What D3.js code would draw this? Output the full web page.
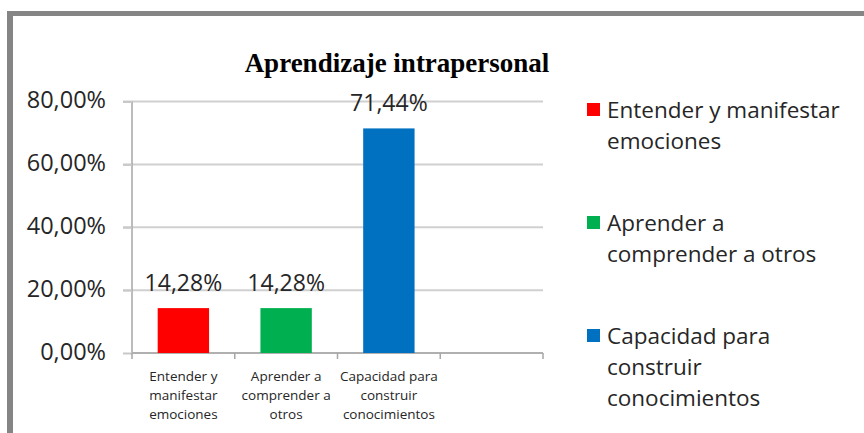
<!DOCTYPE html>
<html>
<head>
<meta charset="utf-8">
<script src="https://cdn.jsdelivr.net/npm/d3@7"></script>
<style>
  html, body { margin: 0; padding: 0; background: #fff; }
  svg { display: block; }
</style>
</head>
<body>
<svg id="chart" width="864" height="433"></svg>
<script>
// ---- data ----
const categories = ["Entender y manifestar emociones", "Aprender a comprender a otros", "Capacidad para construir conocimientos"];
const values = [14.28, 14.28, 71.44];
const valueLabels = ["14,28%", "14,28%", "71,44%"];
const colors = ["#ff0000", "#00b050", "#0070c0"];
const axisLabelLines = [["Entender y", "manifestar", "emociones"], ["Aprender a", "comprender a", "otros"], ["Capacidad para", "construir", "conocimientos"]];
const legendLines = [["Entender y manifestar", "emociones"], ["Aprender a", "comprender a otros"], ["Capacidad para", "construir", "conocimientos"]];
const yTicks = [0, 20, 40, 60, 80];
const yTickLabels = ["0,00%", "20,00%", "40,00%", "60,00%", "80,00%"];
const title = "Aprendizaje intrapersonal";

const svg = d3.select("#chart");
const sans = "'Open Sans', 'Noto Sans', sans-serif";

svg.append("rect").attr("width", 864).attr("height", 433).attr("fill", "#fff");
// frame
svg.append("rect").attr("x", 7).attr("y", 11).attr("width", 857).attr("height", 5).attr("fill", "#858585");
svg.append("rect").attr("x", 7).attr("y", 11).attr("width", 6).attr("height", 422).attr("fill", "#858585");

const slots = [...categories, ""];
const x = d3.scaleBand().domain(slots).range([132, 543]).paddingInner(0.5).paddingOuter(0.25);
const y = d3.scaleLinear().domain([0, 80]).range([353, 101.5]);

// gridlines
svg.append("g").selectAll("line").data(yTicks.filter(d => d > 0)).join("line")
  .attr("x1", 123).attr("x2", 543)
  .attr("y1", d => y(d)).attr("y2", d => y(d))
  .attr("stroke", "#d0d0d0").attr("stroke-width", 2);

// y axis
const yAxis = svg.append("g").attr("transform", "translate(132,0)")
  .call(d3.axisLeft(y).tickValues(yTicks).tickSize(9).tickFormat((d, i) => yTickLabels[i]));
yAxis.select(".domain").attr("stroke", "#a6a6a6").attr("stroke-width", 1.5).attr("d", `M0,${y(80)}V${y(0)}`);
yAxis.selectAll(".tick line").attr("stroke", "#c8c8c8").attr("stroke-width", 2);
yAxis.selectAll(".tick text").attr("x", -26).attr("dy", "0.26em")
  .style("font-family", sans).style("font-size", "23.5px").attr("fill", "#262626");

// x axis
const xAxis = svg.append("g").attr("transform", `translate(0,${y(0)})`)
  .call(d3.axisBottom(x).tickSize(0).tickFormat(""));
xAxis.select(".domain").attr("stroke", "#b0b0b0").attr("stroke-width", 2).attr("d", "M132,0H543");
xAxis.selectAll(".tick").remove();
const bounds = d3.range(slots.length + 1).map(i => 132 + i * x.step());
xAxis.selectAll("line.bt").data(bounds).join("line").attr("class", "bt")
  .attr("x1", d => d).attr("x2", d => d).attr("y1", 0).attr("y2", 6)
  .attr("stroke", "#a6a6a6").attr("stroke-width", 1.5);

// category labels
const catG = svg.append("g");
categories.forEach((c, i) => {
  const t = catG.append("text").attr("text-anchor", "middle")
    .style("font-family", sans).style("font-size", "13.5px").attr("fill", "#262626");
  axisLabelLines[i].forEach((ln, j) => {
    t.append("tspan").attr("x", x(c) + x.bandwidth() / 2).attr("y", 381 + j * 19).text(ln);
  });
});

// bars
svg.append("g").selectAll("rect").data(categories).join("rect")
  .attr("x", d => x(d)).attr("width", x.bandwidth())
  .attr("y", (d, i) => y(values[i])).attr("height", (d, i) => y(0) - y(values[i]))
  .attr("fill", (d, i) => colors[i]);

// value labels
svg.append("g").selectAll("text").data(categories).join("text")
  .attr("x", d => x(d) + x.bandwidth() / 2)
  .attr("y", (d, i) => y(values[i]) - 17)
  .attr("text-anchor", "middle")
  .style("font-family", sans).style("font-size", "23px").attr("fill", "#262626")
  .text((d, i) => valueLabels[i]);

// title
svg.append("text").attr("x", 397).attr("y", 72).attr("text-anchor", "middle")
  .style("font-family", "'Liberation Serif', 'DejaVu Serif', serif").style("font-weight", "bold")
  .style("font-size", "27px").attr("fill", "#000").text(title);

// legend
const legend = svg.append("g");
categories.forEach((c, i) => {
  const top = 103 + i * 113;
  legend.append("rect").attr("x", 587).attr("y", top).attr("width", 13).attr("height", 13).attr("fill", colors[i]);
  const t = legend.append("text").style("font-family", sans).style("font-size", "22.5px").attr("fill", "#262626");
  legendLines[i].forEach((ln, j) => {
    t.append("tspan").attr("x", 607).attr("y", top + 15 + j * 31).text(ln);
  });
});
</script>
</body>
</html>
